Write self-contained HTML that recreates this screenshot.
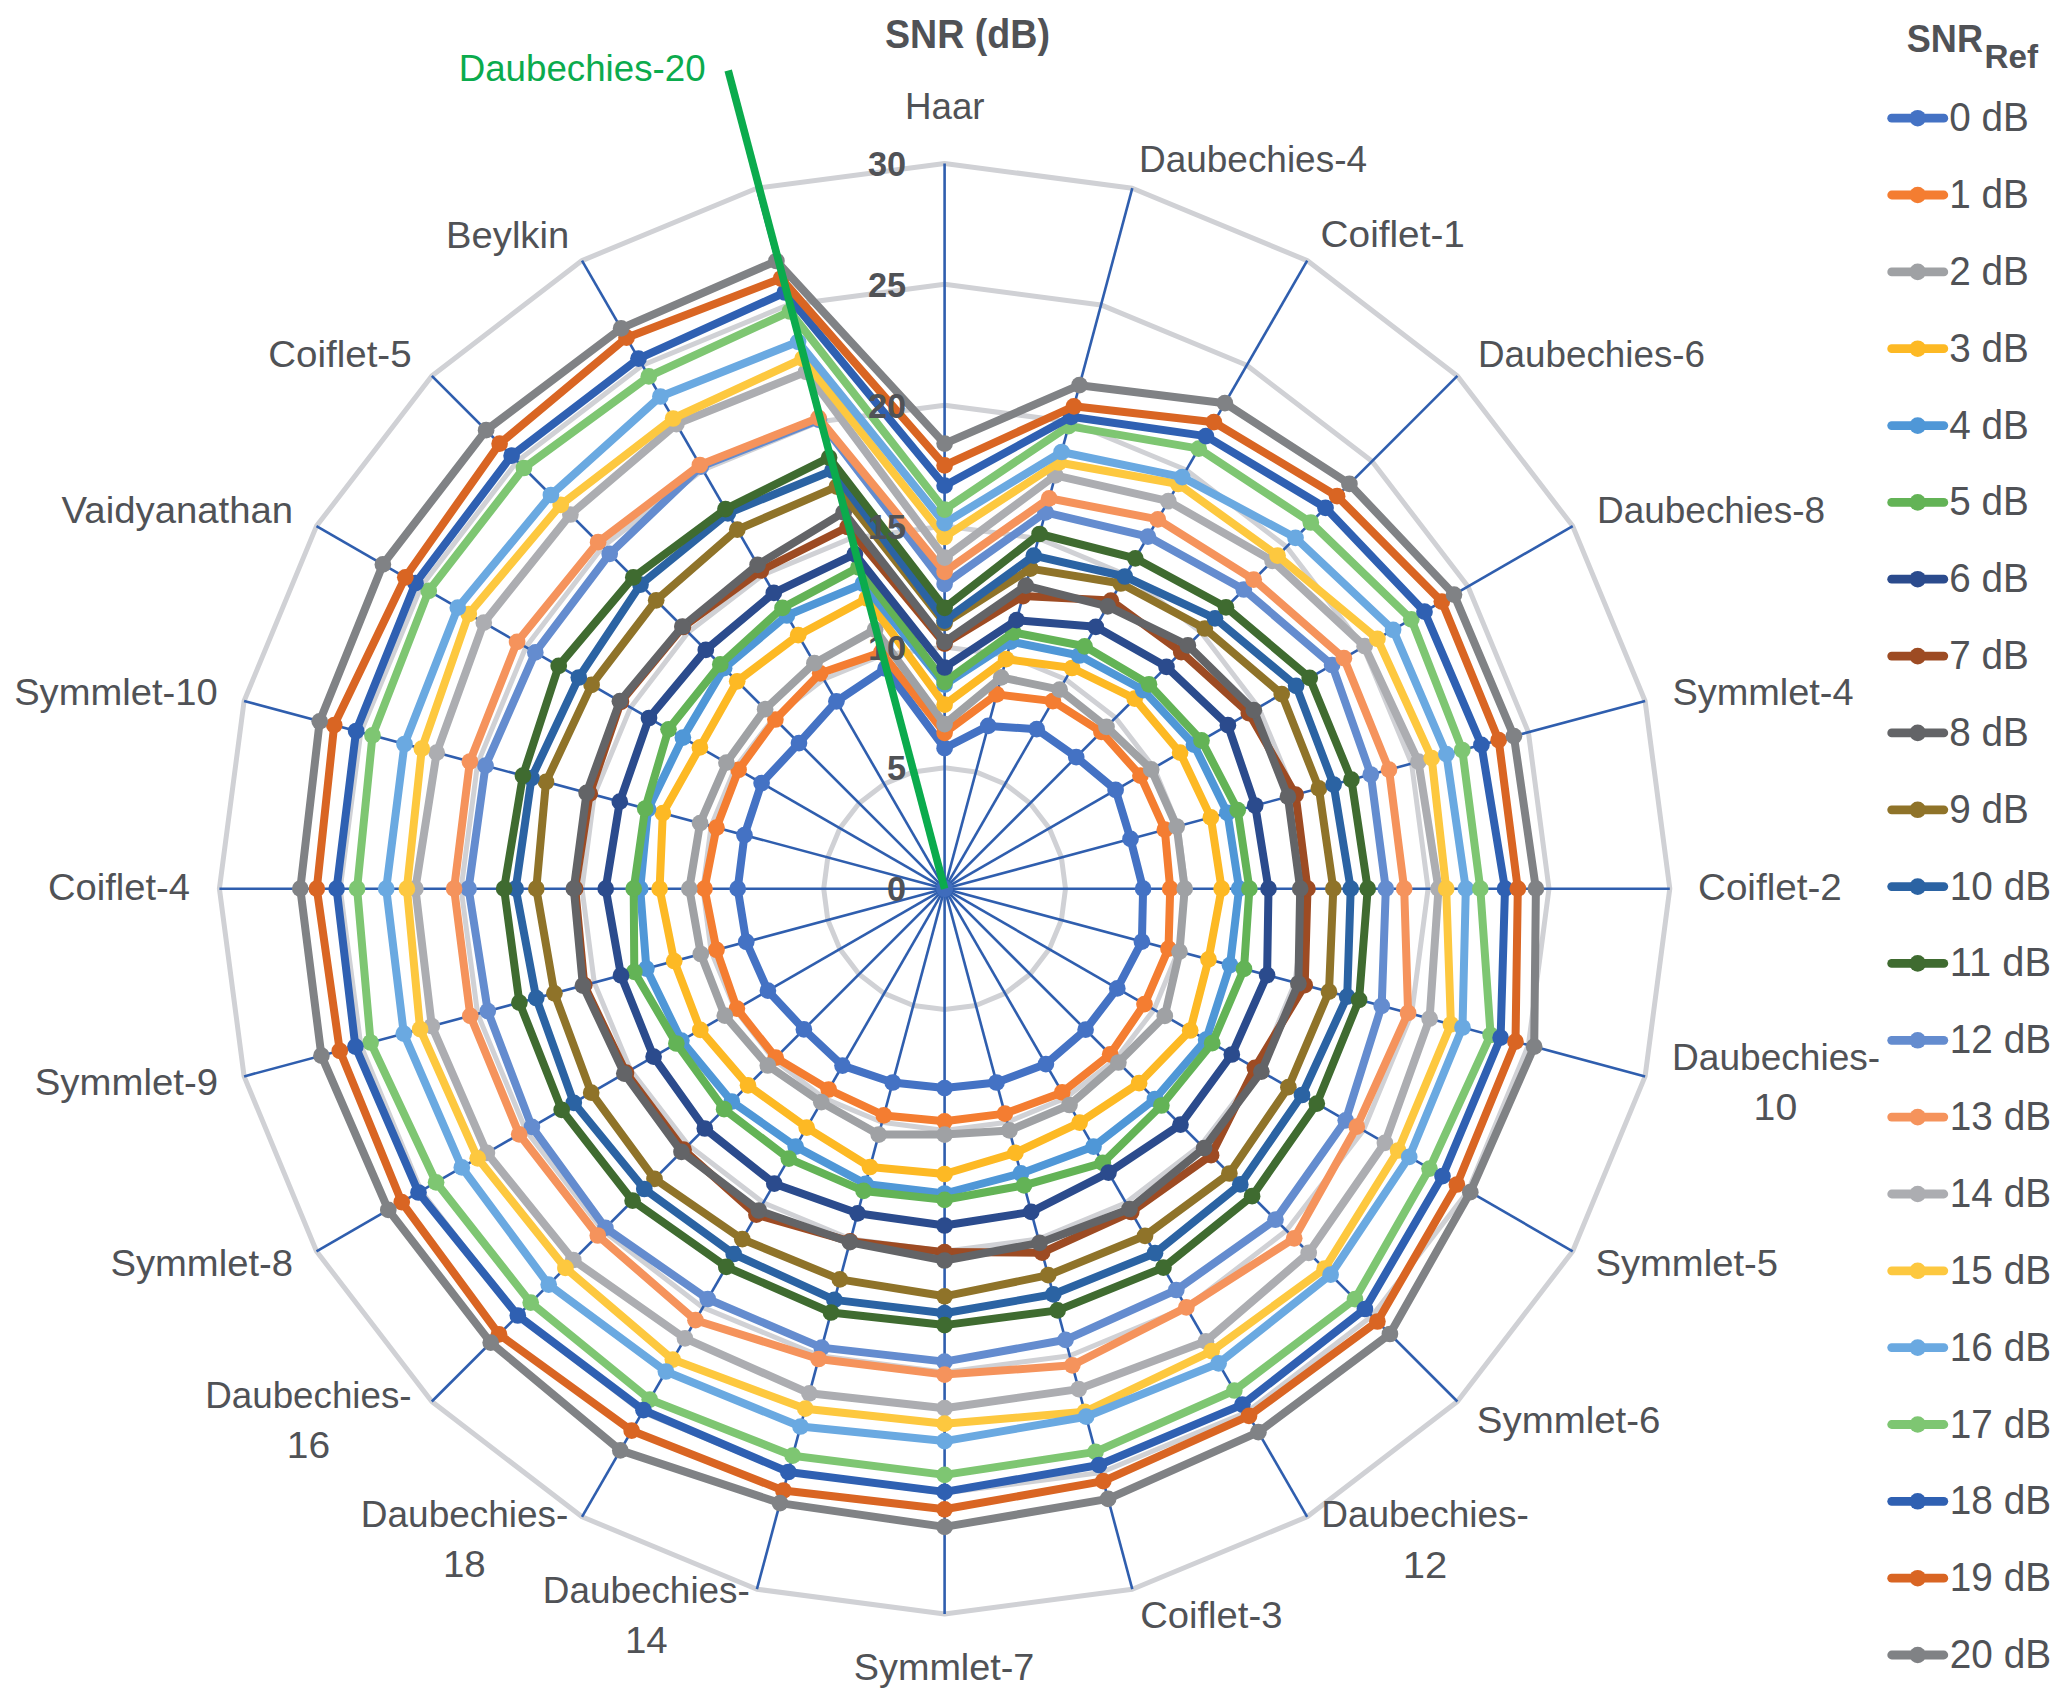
<!DOCTYPE html>
<html><head><meta charset="utf-8"><title>SNR radar</title>
<style>html,body{margin:0;padding:0;background:#fff}svg{display:block}text{font-family:"Liberation Sans",sans-serif}</style></head><body>
<svg width="2067" height="1707" viewBox="0 0 2067 1707">
<rect width="2067" height="1707" fill="#fff"/>
<g fill="none" stroke="#D0D1D5" stroke-width="5.0" stroke-linejoin="round">
<polygon points="944.6,767.8 975.9,771.9 1005.0,784.0 1030.1,803.2 1049.3,828.3 1061.4,857.4 1065.5,888.7 1061.4,920.0 1049.3,949.1 1030.1,974.2 1005.0,993.4 975.9,1005.5 944.6,1009.6 913.3,1005.5 884.2,993.4 859.1,974.2 839.9,949.1 827.8,920.0 823.7,888.7 827.8,857.4 839.9,828.3 859.1,803.2 884.2,784.0 913.3,771.9"/>
<polygon points="944.6,647.0 1007.2,655.2 1065.5,679.3 1115.5,717.8 1154.0,767.8 1178.1,826.1 1186.3,888.7 1178.1,951.3 1154.0,1009.6 1115.5,1059.6 1065.5,1098.1 1007.2,1122.2 944.6,1130.5 882.0,1122.2 823.7,1098.1 773.7,1059.6 735.2,1009.6 711.1,951.3 702.9,888.7 711.1,826.1 735.2,767.8 773.7,717.8 823.7,679.3 882.0,655.2"/>
<polygon points="944.6,526.1 1038.5,538.4 1125.9,574.7 1201.0,632.3 1258.6,707.4 1294.9,794.8 1307.2,888.7 1294.9,982.6 1258.6,1070.0 1201.0,1145.1 1125.9,1202.7 1038.5,1239.0 944.6,1251.3 850.7,1239.0 763.3,1202.7 688.2,1145.1 630.6,1070.0 594.3,982.6 582.0,888.7 594.3,794.8 630.6,707.4 688.2,632.3 763.3,574.7 850.7,538.4"/>
<polygon points="944.6,405.2 1069.7,421.7 1186.3,470.0 1286.5,546.8 1363.3,647.0 1411.6,763.6 1428.1,888.7 1411.6,1013.8 1363.3,1130.5 1286.5,1230.6 1186.3,1307.4 1069.7,1355.7 944.6,1372.2 819.5,1355.7 702.8,1307.4 602.7,1230.6 525.9,1130.5 477.6,1013.8 461.1,888.7 477.6,763.6 525.9,647.0 602.7,546.8 702.8,470.0 819.5,421.7"/>
<polygon points="944.6,284.3 1101.0,304.9 1246.8,365.3 1372.0,461.3 1468.0,586.5 1528.4,732.3 1549.0,888.7 1528.4,1045.1 1468.0,1190.9 1372.0,1316.1 1246.8,1412.1 1101.0,1472.5 944.6,1493.1 788.2,1472.5 642.4,1412.1 517.2,1316.1 421.2,1190.9 360.8,1045.1 340.2,888.7 360.8,732.3 421.2,586.5 517.2,461.3 642.4,365.3 788.2,304.9"/>
<polygon points="944.6,163.5 1132.3,188.2 1307.2,260.6 1457.4,375.9 1572.7,526.1 1645.1,701.0 1669.8,888.7 1645.1,1076.4 1572.7,1251.3 1457.4,1401.5 1307.2,1516.8 1132.3,1589.2 944.6,1614.0 756.9,1589.2 582.0,1516.8 431.8,1401.5 316.5,1251.3 244.1,1076.4 219.4,888.7 244.1,701.0 316.5,526.1 431.8,375.9 582.0,260.6 756.9,188.2"/>
</g>
<g stroke="#2F5EAE" stroke-width="2.6">
<line x1="944.6" y1="888.7" x2="944.6" y2="163.5"/>
<line x1="944.6" y1="888.7" x2="1132.3" y2="188.2"/>
<line x1="944.6" y1="888.7" x2="1307.2" y2="260.6"/>
<line x1="944.6" y1="888.7" x2="1457.4" y2="375.9"/>
<line x1="944.6" y1="888.7" x2="1572.7" y2="526.1"/>
<line x1="944.6" y1="888.7" x2="1645.1" y2="701.0"/>
<line x1="944.6" y1="888.7" x2="1669.8" y2="888.7"/>
<line x1="944.6" y1="888.7" x2="1645.1" y2="1076.4"/>
<line x1="944.6" y1="888.7" x2="1572.7" y2="1251.3"/>
<line x1="944.6" y1="888.7" x2="1457.4" y2="1401.5"/>
<line x1="944.6" y1="888.7" x2="1307.2" y2="1516.8"/>
<line x1="944.6" y1="888.7" x2="1132.3" y2="1589.2"/>
<line x1="944.6" y1="888.7" x2="944.6" y2="1614.0"/>
<line x1="944.6" y1="888.7" x2="756.9" y2="1589.2"/>
<line x1="944.6" y1="888.7" x2="582.0" y2="1516.8"/>
<line x1="944.6" y1="888.7" x2="431.8" y2="1401.5"/>
<line x1="944.6" y1="888.7" x2="316.5" y2="1251.3"/>
<line x1="944.6" y1="888.7" x2="244.1" y2="1076.4"/>
<line x1="944.6" y1="888.7" x2="219.4" y2="888.7"/>
<line x1="944.6" y1="888.7" x2="244.1" y2="701.0"/>
<line x1="944.6" y1="888.7" x2="316.5" y2="526.1"/>
<line x1="944.6" y1="888.7" x2="431.8" y2="375.9"/>
<line x1="944.6" y1="888.7" x2="582.0" y2="260.6"/>
<line x1="944.6" y1="888.7" x2="756.9" y2="188.2"/>
</g>
<circle cx="944.6" cy="888.7" r="8.5" fill="#3F6CBC"/>
<g fill="#4472C4" stroke="#4472C4"><polygon points="944.6,748.2 988.2,725.9 1036.7,729.2 1076.2,757.1 1115.6,789.9 1130.5,838.9 1143.1,888.7 1141.9,941.6 1117.3,988.4 1085.6,1029.7 1045.9,1064.1 996.5,1082.5 944.6,1088.1 892.7,1082.5 842.5,1065.6 803.9,1029.4 767.9,990.7 746.3,941.8 737.7,888.7 744.5,835.1 761.6,783.1 799.0,743.1 836.4,701.3 885.6,668.5" fill="none" stroke-width="8.0" stroke-linejoin="round"/>
<circle cx="944.6" cy="748.2" r="8.35" stroke="none"/><circle cx="988.2" cy="725.9" r="8.35" stroke="none"/><circle cx="1036.7" cy="729.2" r="8.35" stroke="none"/><circle cx="1076.2" cy="757.1" r="8.35" stroke="none"/><circle cx="1115.6" cy="789.9" r="8.35" stroke="none"/><circle cx="1130.5" cy="838.9" r="8.35" stroke="none"/><circle cx="1143.1" cy="888.7" r="8.35" stroke="none"/><circle cx="1141.9" cy="941.6" r="8.35" stroke="none"/><circle cx="1117.3" cy="988.4" r="8.35" stroke="none"/><circle cx="1085.6" cy="1029.7" r="8.35" stroke="none"/><circle cx="1045.9" cy="1064.1" r="8.35" stroke="none"/><circle cx="996.5" cy="1082.5" r="8.35" stroke="none"/><circle cx="944.6" cy="1088.1" r="8.35" stroke="none"/><circle cx="892.7" cy="1082.5" r="8.35" stroke="none"/><circle cx="842.5" cy="1065.6" r="8.35" stroke="none"/><circle cx="803.9" cy="1029.4" r="8.35" stroke="none"/><circle cx="767.9" cy="990.7" r="8.35" stroke="none"/><circle cx="746.3" cy="941.8" r="8.35" stroke="none"/><circle cx="737.7" cy="888.7" r="8.35" stroke="none"/><circle cx="744.5" cy="835.1" r="8.35" stroke="none"/><circle cx="761.6" cy="783.1" r="8.35" stroke="none"/><circle cx="799.0" cy="743.1" r="8.35" stroke="none"/><circle cx="836.4" cy="701.3" r="8.35" stroke="none"/><circle cx="885.6" cy="668.5" r="8.35" stroke="none"/>
</g>
<g fill="#F47D31" stroke="#F47D31"><polygon points="944.6,732.8 996.7,694.4 1052.9,701.1 1101.4,731.9 1140.4,775.7 1164.8,829.7 1170.2,888.7 1168.5,948.7 1144.5,1004.1 1110.2,1054.3 1062.2,1092.4 1004.9,1113.6 944.6,1121.3 883.8,1115.4 828.7,1089.5 775.7,1057.6 736.9,1008.6 716.5,949.8 704.5,888.7 716.5,827.6 738.6,769.8 775.4,719.5 820.2,673.3 881.3,652.4" fill="none" stroke-width="8.0" stroke-linejoin="round"/>
<circle cx="944.6" cy="732.8" r="8.35" stroke="none"/><circle cx="996.7" cy="694.4" r="8.35" stroke="none"/><circle cx="1052.9" cy="701.1" r="8.35" stroke="none"/><circle cx="1101.4" cy="731.9" r="8.35" stroke="none"/><circle cx="1140.4" cy="775.7" r="8.35" stroke="none"/><circle cx="1164.8" cy="829.7" r="8.35" stroke="none"/><circle cx="1170.2" cy="888.7" r="8.35" stroke="none"/><circle cx="1168.5" cy="948.7" r="8.35" stroke="none"/><circle cx="1144.5" cy="1004.1" r="8.35" stroke="none"/><circle cx="1110.2" cy="1054.3" r="8.35" stroke="none"/><circle cx="1062.2" cy="1092.4" r="8.35" stroke="none"/><circle cx="1004.9" cy="1113.6" r="8.35" stroke="none"/><circle cx="944.6" cy="1121.3" r="8.35" stroke="none"/><circle cx="883.8" cy="1115.4" r="8.35" stroke="none"/><circle cx="828.7" cy="1089.5" r="8.35" stroke="none"/><circle cx="775.7" cy="1057.6" r="8.35" stroke="none"/><circle cx="736.9" cy="1008.6" r="8.35" stroke="none"/><circle cx="716.5" cy="949.8" r="8.35" stroke="none"/><circle cx="704.5" cy="888.7" r="8.35" stroke="none"/><circle cx="716.5" cy="827.6" r="8.35" stroke="none"/><circle cx="738.6" cy="769.8" r="8.35" stroke="none"/><circle cx="775.4" cy="719.5" r="8.35" stroke="none"/><circle cx="820.2" cy="673.3" r="8.35" stroke="none"/><circle cx="881.3" cy="652.4" r="8.35" stroke="none"/>
</g>
<g fill="#9FA1A4" stroke="#9FA1A4"><polygon points="944.6,724.1 1001.2,677.4 1059.6,689.6 1106.5,726.8 1151.2,769.4 1176.7,826.5 1184.7,888.7 1179.5,951.6 1164.8,1015.9 1118.4,1062.5 1069.5,1105.0 1009.4,1130.4 944.6,1134.6 878.7,1134.6 821.3,1102.2 767.8,1065.5 724.8,1015.6 700.8,954.0 689.3,888.7 700.1,823.2 726.4,762.7 765.1,709.2 814.4,663.2 875.1,629.5" fill="none" stroke-width="8.0" stroke-linejoin="round"/>
<circle cx="944.6" cy="724.1" r="8.35" stroke="none"/><circle cx="1001.2" cy="677.4" r="8.35" stroke="none"/><circle cx="1059.6" cy="689.6" r="8.35" stroke="none"/><circle cx="1106.5" cy="726.8" r="8.35" stroke="none"/><circle cx="1151.2" cy="769.4" r="8.35" stroke="none"/><circle cx="1176.7" cy="826.5" r="8.35" stroke="none"/><circle cx="1184.7" cy="888.7" r="8.35" stroke="none"/><circle cx="1179.5" cy="951.6" r="8.35" stroke="none"/><circle cx="1164.8" cy="1015.9" r="8.35" stroke="none"/><circle cx="1118.4" cy="1062.5" r="8.35" stroke="none"/><circle cx="1069.5" cy="1105.0" r="8.35" stroke="none"/><circle cx="1009.4" cy="1130.4" r="8.35" stroke="none"/><circle cx="944.6" cy="1134.6" r="8.35" stroke="none"/><circle cx="878.7" cy="1134.6" r="8.35" stroke="none"/><circle cx="821.3" cy="1102.2" r="8.35" stroke="none"/><circle cx="767.8" cy="1065.5" r="8.35" stroke="none"/><circle cx="724.8" cy="1015.6" r="8.35" stroke="none"/><circle cx="700.8" cy="954.0" r="8.35" stroke="none"/><circle cx="689.3" cy="888.7" r="8.35" stroke="none"/><circle cx="700.1" cy="823.2" r="8.35" stroke="none"/><circle cx="726.4" cy="762.7" r="8.35" stroke="none"/><circle cx="765.1" cy="709.2" r="8.35" stroke="none"/><circle cx="814.4" cy="663.2" r="8.35" stroke="none"/><circle cx="875.1" cy="629.5" r="8.35" stroke="none"/>
</g>
<g fill="#FDB924" stroke="#FDB924"><polygon points="944.6,704.7 1006.1,659.2 1072.0,668.0 1134.7,698.6 1180.1,752.7 1210.8,817.4 1221.6,888.7 1208.5,959.4 1190.2,1030.5 1139.1,1083.2 1079.6,1122.6 1015.4,1152.8 944.6,1174.0 870.0,1167.0 806.7,1127.6 748.0,1085.3 700.3,1029.8 674.2,961.2 659.6,888.7 662.8,813.2 699.9,747.4 737.2,681.3 798.2,635.2 866.8,598.4" fill="none" stroke-width="8.0" stroke-linejoin="round"/>
<circle cx="944.6" cy="704.7" r="8.35" stroke="none"/><circle cx="1006.1" cy="659.2" r="8.35" stroke="none"/><circle cx="1072.0" cy="668.0" r="8.35" stroke="none"/><circle cx="1134.7" cy="698.6" r="8.35" stroke="none"/><circle cx="1180.1" cy="752.7" r="8.35" stroke="none"/><circle cx="1210.8" cy="817.4" r="8.35" stroke="none"/><circle cx="1221.6" cy="888.7" r="8.35" stroke="none"/><circle cx="1208.5" cy="959.4" r="8.35" stroke="none"/><circle cx="1190.2" cy="1030.5" r="8.35" stroke="none"/><circle cx="1139.1" cy="1083.2" r="8.35" stroke="none"/><circle cx="1079.6" cy="1122.6" r="8.35" stroke="none"/><circle cx="1015.4" cy="1152.8" r="8.35" stroke="none"/><circle cx="944.6" cy="1174.0" r="8.35" stroke="none"/><circle cx="870.0" cy="1167.0" r="8.35" stroke="none"/><circle cx="806.7" cy="1127.6" r="8.35" stroke="none"/><circle cx="748.0" cy="1085.3" r="8.35" stroke="none"/><circle cx="700.3" cy="1029.8" r="8.35" stroke="none"/><circle cx="674.2" cy="961.2" r="8.35" stroke="none"/><circle cx="659.6" cy="888.7" r="8.35" stroke="none"/><circle cx="662.8" cy="813.2" r="8.35" stroke="none"/><circle cx="699.9" cy="747.4" r="8.35" stroke="none"/><circle cx="737.2" cy="681.3" r="8.35" stroke="none"/><circle cx="798.2" cy="635.2" r="8.35" stroke="none"/><circle cx="866.8" cy="598.4" r="8.35" stroke="none"/>
</g>
<g fill="#4F97D7" stroke="#4F97D7"><polygon points="944.6,684.7 1010.8,641.6 1079.3,655.5 1143.2,690.1 1193.9,744.7 1227.4,812.9 1239.1,888.7 1230.0,965.2 1206.1,1039.7 1154.9,1099.0 1093.5,1146.6 1020.9,1173.4 944.6,1193.5 865.5,1183.9 795.7,1146.6 731.8,1101.5 681.4,1040.6 646.4,968.6 640.2,888.7 648.0,809.2 682.9,737.6 724.1,668.2 786.9,615.5 862.9,583.7" fill="none" stroke-width="8.0" stroke-linejoin="round"/>
<circle cx="944.6" cy="684.7" r="8.35" stroke="none"/><circle cx="1010.8" cy="641.6" r="8.35" stroke="none"/><circle cx="1079.3" cy="655.5" r="8.35" stroke="none"/><circle cx="1143.2" cy="690.1" r="8.35" stroke="none"/><circle cx="1193.9" cy="744.7" r="8.35" stroke="none"/><circle cx="1227.4" cy="812.9" r="8.35" stroke="none"/><circle cx="1239.1" cy="888.7" r="8.35" stroke="none"/><circle cx="1230.0" cy="965.2" r="8.35" stroke="none"/><circle cx="1206.1" cy="1039.7" r="8.35" stroke="none"/><circle cx="1154.9" cy="1099.0" r="8.35" stroke="none"/><circle cx="1093.5" cy="1146.6" r="8.35" stroke="none"/><circle cx="1020.9" cy="1173.4" r="8.35" stroke="none"/><circle cx="944.6" cy="1193.5" r="8.35" stroke="none"/><circle cx="865.5" cy="1183.9" r="8.35" stroke="none"/><circle cx="795.7" cy="1146.6" r="8.35" stroke="none"/><circle cx="731.8" cy="1101.5" r="8.35" stroke="none"/><circle cx="681.4" cy="1040.6" r="8.35" stroke="none"/><circle cx="646.4" cy="968.6" r="8.35" stroke="none"/><circle cx="640.2" cy="888.7" r="8.35" stroke="none"/><circle cx="648.0" cy="809.2" r="8.35" stroke="none"/><circle cx="682.9" cy="737.6" r="8.35" stroke="none"/><circle cx="724.1" cy="668.2" r="8.35" stroke="none"/><circle cx="786.9" cy="615.5" r="8.35" stroke="none"/><circle cx="862.9" cy="583.7" r="8.35" stroke="none"/>
</g>
<g fill="#63B356" stroke="#63B356"><polygon points="944.6,682.0 1013.3,632.3 1084.6,646.3 1149.0,684.3 1201.5,740.4 1237.7,810.2 1249.4,888.7 1244.0,968.9 1212.2,1043.2 1161.4,1105.5 1102.8,1162.8 1024.1,1185.3 944.6,1199.8 863.6,1190.9 788.8,1158.6 724.1,1109.2 676.4,1043.5 634.3,971.9 633.7,888.7 645.2,808.5 668.5,729.3 720.3,664.4 782.5,607.9 858.5,567.4" fill="none" stroke-width="8.0" stroke-linejoin="round"/>
<circle cx="944.6" cy="682.0" r="8.35" stroke="none"/><circle cx="1013.3" cy="632.3" r="8.35" stroke="none"/><circle cx="1084.6" cy="646.3" r="8.35" stroke="none"/><circle cx="1149.0" cy="684.3" r="8.35" stroke="none"/><circle cx="1201.5" cy="740.4" r="8.35" stroke="none"/><circle cx="1237.7" cy="810.2" r="8.35" stroke="none"/><circle cx="1249.4" cy="888.7" r="8.35" stroke="none"/><circle cx="1244.0" cy="968.9" r="8.35" stroke="none"/><circle cx="1212.2" cy="1043.2" r="8.35" stroke="none"/><circle cx="1161.4" cy="1105.5" r="8.35" stroke="none"/><circle cx="1102.8" cy="1162.8" r="8.35" stroke="none"/><circle cx="1024.1" cy="1185.3" r="8.35" stroke="none"/><circle cx="944.6" cy="1199.8" r="8.35" stroke="none"/><circle cx="863.6" cy="1190.9" r="8.35" stroke="none"/><circle cx="788.8" cy="1158.6" r="8.35" stroke="none"/><circle cx="724.1" cy="1109.2" r="8.35" stroke="none"/><circle cx="676.4" cy="1043.5" r="8.35" stroke="none"/><circle cx="634.3" cy="971.9" r="8.35" stroke="none"/><circle cx="633.7" cy="888.7" r="8.35" stroke="none"/><circle cx="645.2" cy="808.5" r="8.35" stroke="none"/><circle cx="668.5" cy="729.3" r="8.35" stroke="none"/><circle cx="720.3" cy="664.4" r="8.35" stroke="none"/><circle cx="782.5" cy="607.9" r="8.35" stroke="none"/><circle cx="858.5" cy="567.4" r="8.35" stroke="none"/>
</g>
<g fill="#2B4B8D" stroke="#2B4B8D"><polygon points="944.6,667.5 1016.6,620.2 1095.8,626.8 1166.5,666.8 1227.9,725.2 1255.2,805.5 1268.5,888.7 1267.1,975.1 1231.8,1054.5 1180.5,1124.6 1108.5,1172.6 1031.2,1211.9 944.6,1225.5 857.6,1213.3 774.3,1183.7 704.8,1128.5 653.6,1056.7 621.0,975.4 605.7,888.7 619.8,801.7 649.0,718.0 705.8,649.9 773.8,592.9 854.9,554.1" fill="none" stroke-width="8.0" stroke-linejoin="round"/>
<circle cx="944.6" cy="667.5" r="8.35" stroke="none"/><circle cx="1016.6" cy="620.2" r="8.35" stroke="none"/><circle cx="1095.8" cy="626.8" r="8.35" stroke="none"/><circle cx="1166.5" cy="666.8" r="8.35" stroke="none"/><circle cx="1227.9" cy="725.2" r="8.35" stroke="none"/><circle cx="1255.2" cy="805.5" r="8.35" stroke="none"/><circle cx="1268.5" cy="888.7" r="8.35" stroke="none"/><circle cx="1267.1" cy="975.1" r="8.35" stroke="none"/><circle cx="1231.8" cy="1054.5" r="8.35" stroke="none"/><circle cx="1180.5" cy="1124.6" r="8.35" stroke="none"/><circle cx="1108.5" cy="1172.6" r="8.35" stroke="none"/><circle cx="1031.2" cy="1211.9" r="8.35" stroke="none"/><circle cx="944.6" cy="1225.5" r="8.35" stroke="none"/><circle cx="857.6" cy="1213.3" r="8.35" stroke="none"/><circle cx="774.3" cy="1183.7" r="8.35" stroke="none"/><circle cx="704.8" cy="1128.5" r="8.35" stroke="none"/><circle cx="653.6" cy="1056.7" r="8.35" stroke="none"/><circle cx="621.0" cy="975.4" r="8.35" stroke="none"/><circle cx="605.7" cy="888.7" r="8.35" stroke="none"/><circle cx="619.8" cy="801.7" r="8.35" stroke="none"/><circle cx="649.0" cy="718.0" r="8.35" stroke="none"/><circle cx="705.8" cy="649.9" r="8.35" stroke="none"/><circle cx="773.8" cy="592.9" r="8.35" stroke="none"/><circle cx="854.9" cy="554.1" r="8.35" stroke="none"/>
</g>
<g fill="#9D4B23" stroke="#9D4B23"><polygon points="944.6,643.6 1023.0,596.1 1110.9,600.6 1181.2,652.1 1248.8,713.1 1295.6,794.7 1307.5,888.7 1304.7,985.2 1254.9,1067.8 1211.1,1155.2 1131.2,1212.0 1042.1,1252.7 944.6,1252.1 850.1,1241.3 756.4,1214.7 683.6,1149.7 626.0,1072.7 584.3,985.2 575.2,888.7 589.7,793.6 620.9,701.8 682.9,627.0 760.9,570.5 847.7,527.0" fill="none" stroke-width="8.0" stroke-linejoin="round"/>
<circle cx="944.6" cy="643.6" r="8.35" stroke="none"/><circle cx="1023.0" cy="596.1" r="8.35" stroke="none"/><circle cx="1110.9" cy="600.6" r="8.35" stroke="none"/><circle cx="1181.2" cy="652.1" r="8.35" stroke="none"/><circle cx="1248.8" cy="713.1" r="8.35" stroke="none"/><circle cx="1295.6" cy="794.7" r="8.35" stroke="none"/><circle cx="1307.5" cy="888.7" r="8.35" stroke="none"/><circle cx="1304.7" cy="985.2" r="8.35" stroke="none"/><circle cx="1254.9" cy="1067.8" r="8.35" stroke="none"/><circle cx="1211.1" cy="1155.2" r="8.35" stroke="none"/><circle cx="1131.2" cy="1212.0" r="8.35" stroke="none"/><circle cx="1042.1" cy="1252.7" r="8.35" stroke="none"/><circle cx="944.6" cy="1252.1" r="8.35" stroke="none"/><circle cx="850.1" cy="1241.3" r="8.35" stroke="none"/><circle cx="756.4" cy="1214.7" r="8.35" stroke="none"/><circle cx="683.6" cy="1149.7" r="8.35" stroke="none"/><circle cx="626.0" cy="1072.7" r="8.35" stroke="none"/><circle cx="584.3" cy="985.2" r="8.35" stroke="none"/><circle cx="575.2" cy="888.7" r="8.35" stroke="none"/><circle cx="589.7" cy="793.6" r="8.35" stroke="none"/><circle cx="620.9" cy="701.8" r="8.35" stroke="none"/><circle cx="682.9" cy="627.0" r="8.35" stroke="none"/><circle cx="760.9" cy="570.5" r="8.35" stroke="none"/><circle cx="847.7" cy="527.0" r="8.35" stroke="none"/>
</g>
<g fill="#636467" stroke="#636467"><polygon points="944.6,641.9 1025.8,585.6 1107.7,606.3 1187.9,645.4 1253.8,710.2 1287.9,796.7 1300.2,888.7 1298.4,983.5 1261.4,1071.6 1204.1,1148.2 1129.5,1209.0 1039.5,1242.9 944.6,1260.5 849.9,1242.2 758.8,1210.5 681.5,1151.8 624.3,1073.6 582.9,985.6 573.8,888.7 586.6,792.8 619.9,701.2 682.4,626.5 757.6,564.8 843.7,512.3" fill="none" stroke-width="8.0" stroke-linejoin="round"/>
<circle cx="944.6" cy="641.9" r="8.35" stroke="none"/><circle cx="1025.8" cy="585.6" r="8.35" stroke="none"/><circle cx="1107.7" cy="606.3" r="8.35" stroke="none"/><circle cx="1187.9" cy="645.4" r="8.35" stroke="none"/><circle cx="1253.8" cy="710.2" r="8.35" stroke="none"/><circle cx="1287.9" cy="796.7" r="8.35" stroke="none"/><circle cx="1300.2" cy="888.7" r="8.35" stroke="none"/><circle cx="1298.4" cy="983.5" r="8.35" stroke="none"/><circle cx="1261.4" cy="1071.6" r="8.35" stroke="none"/><circle cx="1204.1" cy="1148.2" r="8.35" stroke="none"/><circle cx="1129.5" cy="1209.0" r="8.35" stroke="none"/><circle cx="1039.5" cy="1242.9" r="8.35" stroke="none"/><circle cx="944.6" cy="1260.5" r="8.35" stroke="none"/><circle cx="849.9" cy="1242.2" r="8.35" stroke="none"/><circle cx="758.8" cy="1210.5" r="8.35" stroke="none"/><circle cx="681.5" cy="1151.8" r="8.35" stroke="none"/><circle cx="624.3" cy="1073.6" r="8.35" stroke="none"/><circle cx="582.9" cy="985.6" r="8.35" stroke="none"/><circle cx="573.8" cy="888.7" r="8.35" stroke="none"/><circle cx="586.6" cy="792.8" r="8.35" stroke="none"/><circle cx="619.9" cy="701.2" r="8.35" stroke="none"/><circle cx="682.4" cy="626.5" r="8.35" stroke="none"/><circle cx="757.6" cy="564.8" r="8.35" stroke="none"/><circle cx="843.7" cy="512.3" r="8.35" stroke="none"/>
</g>
<g fill="#8F7329" stroke="#8F7329"><polygon points="944.6,623.0 1030.4,568.6 1120.8,583.5 1204.8,628.5 1281.7,694.1 1318.9,788.4 1333.3,888.7 1329.0,991.7 1288.4,1087.2 1229.4,1173.5 1145.0,1235.8 1048.2,1275.2 944.6,1296.3 839.9,1279.4 742.3,1239.2 654.5,1178.8 591.2,1092.7 554.4,993.3 536.3,888.7 546.0,781.9 591.6,684.9 656.2,600.3 737.3,529.6 836.9,486.6" fill="none" stroke-width="8.0" stroke-linejoin="round"/>
<circle cx="944.6" cy="623.0" r="8.35" stroke="none"/><circle cx="1030.4" cy="568.6" r="8.35" stroke="none"/><circle cx="1120.8" cy="583.5" r="8.35" stroke="none"/><circle cx="1204.8" cy="628.5" r="8.35" stroke="none"/><circle cx="1281.7" cy="694.1" r="8.35" stroke="none"/><circle cx="1318.9" cy="788.4" r="8.35" stroke="none"/><circle cx="1333.3" cy="888.7" r="8.35" stroke="none"/><circle cx="1329.0" cy="991.7" r="8.35" stroke="none"/><circle cx="1288.4" cy="1087.2" r="8.35" stroke="none"/><circle cx="1229.4" cy="1173.5" r="8.35" stroke="none"/><circle cx="1145.0" cy="1235.8" r="8.35" stroke="none"/><circle cx="1048.2" cy="1275.2" r="8.35" stroke="none"/><circle cx="944.6" cy="1296.3" r="8.35" stroke="none"/><circle cx="839.9" cy="1279.4" r="8.35" stroke="none"/><circle cx="742.3" cy="1239.2" r="8.35" stroke="none"/><circle cx="654.5" cy="1178.8" r="8.35" stroke="none"/><circle cx="591.2" cy="1092.7" r="8.35" stroke="none"/><circle cx="554.4" cy="993.3" r="8.35" stroke="none"/><circle cx="536.3" cy="888.7" r="8.35" stroke="none"/><circle cx="546.0" cy="781.9" r="8.35" stroke="none"/><circle cx="591.6" cy="684.9" r="8.35" stroke="none"/><circle cx="656.2" cy="600.3" r="8.35" stroke="none"/><circle cx="737.3" cy="529.6" r="8.35" stroke="none"/><circle cx="836.9" cy="486.6" r="8.35" stroke="none"/>
</g>
<g fill="#2B63A3" stroke="#2B63A3"><polygon points="944.6,620.6 1033.8,555.7 1124.8,576.5 1215.0,618.3 1296.1,685.8 1333.6,784.5 1350.7,888.7 1347.2,996.6 1302.0,1095.0 1240.3,1184.4 1155.0,1253.2 1053.3,1294.3 944.6,1313.2 834.4,1299.9 733.7,1254.0 644.3,1189.0 573.8,1102.8 536.2,998.1 515.7,888.7 531.5,778.0 578.8,677.5 640.5,584.6 727.9,513.3 832.5,470.5" fill="none" stroke-width="8.0" stroke-linejoin="round"/>
<circle cx="944.6" cy="620.6" r="8.35" stroke="none"/><circle cx="1033.8" cy="555.7" r="8.35" stroke="none"/><circle cx="1124.8" cy="576.5" r="8.35" stroke="none"/><circle cx="1215.0" cy="618.3" r="8.35" stroke="none"/><circle cx="1296.1" cy="685.8" r="8.35" stroke="none"/><circle cx="1333.6" cy="784.5" r="8.35" stroke="none"/><circle cx="1350.7" cy="888.7" r="8.35" stroke="none"/><circle cx="1347.2" cy="996.6" r="8.35" stroke="none"/><circle cx="1302.0" cy="1095.0" r="8.35" stroke="none"/><circle cx="1240.3" cy="1184.4" r="8.35" stroke="none"/><circle cx="1155.0" cy="1253.2" r="8.35" stroke="none"/><circle cx="1053.3" cy="1294.3" r="8.35" stroke="none"/><circle cx="944.6" cy="1313.2" r="8.35" stroke="none"/><circle cx="834.4" cy="1299.9" r="8.35" stroke="none"/><circle cx="733.7" cy="1254.0" r="8.35" stroke="none"/><circle cx="644.3" cy="1189.0" r="8.35" stroke="none"/><circle cx="573.8" cy="1102.8" r="8.35" stroke="none"/><circle cx="536.2" cy="998.1" r="8.35" stroke="none"/><circle cx="515.7" cy="888.7" r="8.35" stroke="none"/><circle cx="531.5" cy="778.0" r="8.35" stroke="none"/><circle cx="578.8" cy="677.5" r="8.35" stroke="none"/><circle cx="640.5" cy="584.6" r="8.35" stroke="none"/><circle cx="727.9" cy="513.3" r="8.35" stroke="none"/><circle cx="832.5" cy="470.5" r="8.35" stroke="none"/>
</g>
<g fill="#3F6B30" stroke="#3F6B30"><polygon points="944.6,607.8 1039.6,534.0 1135.3,558.3 1226.0,607.3 1309.7,677.9 1351.4,779.7 1367.7,888.7 1359.1,999.8 1316.8,1103.6 1252.1,1196.2 1163.4,1267.6 1057.6,1310.4 944.6,1325.1 831.0,1312.5 726.3,1266.8 632.6,1200.7 561.7,1109.8 519.4,1002.6 504.1,888.7 522.9,775.7 558.7,665.9 633.3,577.4 725.5,509.1 829.1,457.6" fill="none" stroke-width="8.0" stroke-linejoin="round"/>
<circle cx="944.6" cy="607.8" r="8.35" stroke="none"/><circle cx="1039.6" cy="534.0" r="8.35" stroke="none"/><circle cx="1135.3" cy="558.3" r="8.35" stroke="none"/><circle cx="1226.0" cy="607.3" r="8.35" stroke="none"/><circle cx="1309.7" cy="677.9" r="8.35" stroke="none"/><circle cx="1351.4" cy="779.7" r="8.35" stroke="none"/><circle cx="1367.7" cy="888.7" r="8.35" stroke="none"/><circle cx="1359.1" cy="999.8" r="8.35" stroke="none"/><circle cx="1316.8" cy="1103.6" r="8.35" stroke="none"/><circle cx="1252.1" cy="1196.2" r="8.35" stroke="none"/><circle cx="1163.4" cy="1267.6" r="8.35" stroke="none"/><circle cx="1057.6" cy="1310.4" r="8.35" stroke="none"/><circle cx="944.6" cy="1325.1" r="8.35" stroke="none"/><circle cx="831.0" cy="1312.5" r="8.35" stroke="none"/><circle cx="726.3" cy="1266.8" r="8.35" stroke="none"/><circle cx="632.6" cy="1200.7" r="8.35" stroke="none"/><circle cx="561.7" cy="1109.8" r="8.35" stroke="none"/><circle cx="519.4" cy="1002.6" r="8.35" stroke="none"/><circle cx="504.1" cy="888.7" r="8.35" stroke="none"/><circle cx="522.9" cy="775.7" r="8.35" stroke="none"/><circle cx="558.7" cy="665.9" r="8.35" stroke="none"/><circle cx="633.3" cy="577.4" r="8.35" stroke="none"/><circle cx="725.5" cy="509.1" r="8.35" stroke="none"/><circle cx="829.1" cy="457.6" r="8.35" stroke="none"/>
</g>
<g fill="#648CCF" stroke="#648CCF"><polygon points="944.6,584.1 1045.5,512.3 1147.9,536.6 1243.8,589.5 1332.1,665.0 1370.8,774.5 1385.8,888.7 1381.7,1005.8 1345.7,1120.3 1275.5,1219.6 1176.3,1290.0 1065.5,1339.8 944.6,1361.6 821.7,1347.6 707.7,1299.0 605.4,1227.9 531.9,1126.9 487.8,1011.1 468.6,888.7 485.5,765.7 535.3,652.4 609.7,553.8 700.9,466.6 819.0,419.8" fill="none" stroke-width="8.0" stroke-linejoin="round"/>
<circle cx="944.6" cy="584.1" r="8.35" stroke="none"/><circle cx="1045.5" cy="512.3" r="8.35" stroke="none"/><circle cx="1147.9" cy="536.6" r="8.35" stroke="none"/><circle cx="1243.8" cy="589.5" r="8.35" stroke="none"/><circle cx="1332.1" cy="665.0" r="8.35" stroke="none"/><circle cx="1370.8" cy="774.5" r="8.35" stroke="none"/><circle cx="1385.8" cy="888.7" r="8.35" stroke="none"/><circle cx="1381.7" cy="1005.8" r="8.35" stroke="none"/><circle cx="1345.7" cy="1120.3" r="8.35" stroke="none"/><circle cx="1275.5" cy="1219.6" r="8.35" stroke="none"/><circle cx="1176.3" cy="1290.0" r="8.35" stroke="none"/><circle cx="1065.5" cy="1339.8" r="8.35" stroke="none"/><circle cx="944.6" cy="1361.6" r="8.35" stroke="none"/><circle cx="821.7" cy="1347.6" r="8.35" stroke="none"/><circle cx="707.7" cy="1299.0" r="8.35" stroke="none"/><circle cx="605.4" cy="1227.9" r="8.35" stroke="none"/><circle cx="531.9" cy="1126.9" r="8.35" stroke="none"/><circle cx="487.8" cy="1011.1" r="8.35" stroke="none"/><circle cx="468.6" cy="888.7" r="8.35" stroke="none"/><circle cx="485.5" cy="765.7" r="8.35" stroke="none"/><circle cx="535.3" cy="652.4" r="8.35" stroke="none"/><circle cx="609.7" cy="553.8" r="8.35" stroke="none"/><circle cx="700.9" cy="466.6" r="8.35" stroke="none"/><circle cx="819.0" cy="419.8" r="8.35" stroke="none"/>
</g>
<g fill="#F5935C" stroke="#F5935C"><polygon points="944.6,571.8 1049.2,498.3 1157.8,519.4 1253.7,579.6 1343.9,658.2 1389.0,769.6 1404.2,888.7 1408.1,1012.9 1356.8,1126.7 1294.2,1238.3 1186.3,1307.4 1072.3,1365.3 944.6,1374.6 818.6,1359.0 695.5,1320.2 597.8,1235.5 519.2,1134.3 470.3,1015.8 454.1,888.7 469.9,761.5 517.1,641.9 598.1,542.2 699.9,465.0 818.5,417.9" fill="none" stroke-width="8.0" stroke-linejoin="round"/>
<circle cx="944.6" cy="571.8" r="8.35" stroke="none"/><circle cx="1049.2" cy="498.3" r="8.35" stroke="none"/><circle cx="1157.8" cy="519.4" r="8.35" stroke="none"/><circle cx="1253.7" cy="579.6" r="8.35" stroke="none"/><circle cx="1343.9" cy="658.2" r="8.35" stroke="none"/><circle cx="1389.0" cy="769.6" r="8.35" stroke="none"/><circle cx="1404.2" cy="888.7" r="8.35" stroke="none"/><circle cx="1408.1" cy="1012.9" r="8.35" stroke="none"/><circle cx="1356.8" cy="1126.7" r="8.35" stroke="none"/><circle cx="1294.2" cy="1238.3" r="8.35" stroke="none"/><circle cx="1186.3" cy="1307.4" r="8.35" stroke="none"/><circle cx="1072.3" cy="1365.3" r="8.35" stroke="none"/><circle cx="944.6" cy="1374.6" r="8.35" stroke="none"/><circle cx="818.6" cy="1359.0" r="8.35" stroke="none"/><circle cx="695.5" cy="1320.2" r="8.35" stroke="none"/><circle cx="597.8" cy="1235.5" r="8.35" stroke="none"/><circle cx="519.2" cy="1134.3" r="8.35" stroke="none"/><circle cx="470.3" cy="1015.8" r="8.35" stroke="none"/><circle cx="454.1" cy="888.7" r="8.35" stroke="none"/><circle cx="469.9" cy="761.5" r="8.35" stroke="none"/><circle cx="517.1" cy="641.9" r="8.35" stroke="none"/><circle cx="598.1" cy="542.2" r="8.35" stroke="none"/><circle cx="699.9" cy="465.0" r="8.35" stroke="none"/><circle cx="818.5" cy="417.9" r="8.35" stroke="none"/>
</g>
<g fill="#ACADB1" stroke="#ACADB1"><polygon points="944.6,557.7 1055.3,475.4 1168.3,501.2 1272.5,560.8 1364.6,646.2 1418.4,761.7 1438.5,888.7 1429.6,1018.7 1384.9,1142.9 1308.7,1252.8 1205.9,1341.3 1078.7,1389.1 944.6,1408.2 809.4,1393.3 685.0,1338.4 573.3,1260.0 486.9,1152.9 431.8,1026.1 415.4,888.7 436.7,752.6 483.8,622.7 570.4,514.5 676.4,424.1 806.1,371.9" fill="none" stroke-width="8.0" stroke-linejoin="round"/>
<circle cx="944.6" cy="557.7" r="8.35" stroke="none"/><circle cx="1055.3" cy="475.4" r="8.35" stroke="none"/><circle cx="1168.3" cy="501.2" r="8.35" stroke="none"/><circle cx="1272.5" cy="560.8" r="8.35" stroke="none"/><circle cx="1364.6" cy="646.2" r="8.35" stroke="none"/><circle cx="1418.4" cy="761.7" r="8.35" stroke="none"/><circle cx="1438.5" cy="888.7" r="8.35" stroke="none"/><circle cx="1429.6" cy="1018.7" r="8.35" stroke="none"/><circle cx="1384.9" cy="1142.9" r="8.35" stroke="none"/><circle cx="1308.7" cy="1252.8" r="8.35" stroke="none"/><circle cx="1205.9" cy="1341.3" r="8.35" stroke="none"/><circle cx="1078.7" cy="1389.1" r="8.35" stroke="none"/><circle cx="944.6" cy="1408.2" r="8.35" stroke="none"/><circle cx="809.4" cy="1393.3" r="8.35" stroke="none"/><circle cx="685.0" cy="1338.4" r="8.35" stroke="none"/><circle cx="573.3" cy="1260.0" r="8.35" stroke="none"/><circle cx="486.9" cy="1152.9" r="8.35" stroke="none"/><circle cx="431.8" cy="1026.1" r="8.35" stroke="none"/><circle cx="415.4" cy="888.7" r="8.35" stroke="none"/><circle cx="436.7" cy="752.6" r="8.35" stroke="none"/><circle cx="483.8" cy="622.7" r="8.35" stroke="none"/><circle cx="570.4" cy="514.5" r="8.35" stroke="none"/><circle cx="676.4" cy="424.1" r="8.35" stroke="none"/><circle cx="806.1" cy="371.9" r="8.35" stroke="none"/>
</g>
<g fill="#FDC83F" stroke="#FDC83F"><polygon points="944.6,537.0 1058.8,462.5 1178.3,484.0 1277.6,555.7 1377.4,638.9 1431.7,758.2 1446.2,888.7 1450.9,1024.4 1398.1,1150.5 1324.6,1268.7 1211.6,1351.2 1084.8,1411.8 944.6,1423.7 805.3,1408.7 672.8,1359.6 565.4,1267.9 477.7,1158.3 420.1,1029.2 406.9,888.7 421.8,748.6 468.7,614.0 560.7,504.8 673.1,418.5 802.6,358.6" fill="none" stroke-width="8.0" stroke-linejoin="round"/>
<circle cx="944.6" cy="537.0" r="8.35" stroke="none"/><circle cx="1058.8" cy="462.5" r="8.35" stroke="none"/><circle cx="1178.3" cy="484.0" r="8.35" stroke="none"/><circle cx="1277.6" cy="555.7" r="8.35" stroke="none"/><circle cx="1377.4" cy="638.9" r="8.35" stroke="none"/><circle cx="1431.7" cy="758.2" r="8.35" stroke="none"/><circle cx="1446.2" cy="888.7" r="8.35" stroke="none"/><circle cx="1450.9" cy="1024.4" r="8.35" stroke="none"/><circle cx="1398.1" cy="1150.5" r="8.35" stroke="none"/><circle cx="1324.6" cy="1268.7" r="8.35" stroke="none"/><circle cx="1211.6" cy="1351.2" r="8.35" stroke="none"/><circle cx="1084.8" cy="1411.8" r="8.35" stroke="none"/><circle cx="944.6" cy="1423.7" r="8.35" stroke="none"/><circle cx="805.3" cy="1408.7" r="8.35" stroke="none"/><circle cx="672.8" cy="1359.6" r="8.35" stroke="none"/><circle cx="565.4" cy="1267.9" r="8.35" stroke="none"/><circle cx="477.7" cy="1158.3" r="8.35" stroke="none"/><circle cx="420.1" cy="1029.2" r="8.35" stroke="none"/><circle cx="406.9" cy="888.7" r="8.35" stroke="none"/><circle cx="421.8" cy="748.6" r="8.35" stroke="none"/><circle cx="468.7" cy="614.0" r="8.35" stroke="none"/><circle cx="560.7" cy="504.8" r="8.35" stroke="none"/><circle cx="673.1" cy="418.5" r="8.35" stroke="none"/><circle cx="802.6" cy="358.6" r="8.35" stroke="none"/>
</g>
<g fill="#6AA9E1" stroke="#6AA9E1"><polygon points="944.6,523.2 1061.6,452.0 1182.2,477.1 1295.5,537.8 1393.1,629.8 1446.4,754.2 1465.8,888.7 1462.5,1027.5 1409.2,1156.9 1330.6,1274.7 1218.6,1363.3 1086.1,1416.7 944.6,1441.1 800.5,1426.5 665.9,1371.5 548.7,1284.6 461.8,1167.4 403.8,1033.6 386.2,888.7 404.5,744.0 457.8,607.7 550.9,495.0 660.4,396.5 798.1,341.8" fill="none" stroke-width="8.0" stroke-linejoin="round"/>
<circle cx="944.6" cy="523.2" r="8.35" stroke="none"/><circle cx="1061.6" cy="452.0" r="8.35" stroke="none"/><circle cx="1182.2" cy="477.1" r="8.35" stroke="none"/><circle cx="1295.5" cy="537.8" r="8.35" stroke="none"/><circle cx="1393.1" cy="629.8" r="8.35" stroke="none"/><circle cx="1446.4" cy="754.2" r="8.35" stroke="none"/><circle cx="1465.8" cy="888.7" r="8.35" stroke="none"/><circle cx="1462.5" cy="1027.5" r="8.35" stroke="none"/><circle cx="1409.2" cy="1156.9" r="8.35" stroke="none"/><circle cx="1330.6" cy="1274.7" r="8.35" stroke="none"/><circle cx="1218.6" cy="1363.3" r="8.35" stroke="none"/><circle cx="1086.1" cy="1416.7" r="8.35" stroke="none"/><circle cx="944.6" cy="1441.1" r="8.35" stroke="none"/><circle cx="800.5" cy="1426.5" r="8.35" stroke="none"/><circle cx="665.9" cy="1371.5" r="8.35" stroke="none"/><circle cx="548.7" cy="1284.6" r="8.35" stroke="none"/><circle cx="461.8" cy="1167.4" r="8.35" stroke="none"/><circle cx="403.8" cy="1033.6" r="8.35" stroke="none"/><circle cx="386.2" cy="888.7" r="8.35" stroke="none"/><circle cx="404.5" cy="744.0" r="8.35" stroke="none"/><circle cx="457.8" cy="607.7" r="8.35" stroke="none"/><circle cx="550.9" cy="495.0" r="8.35" stroke="none"/><circle cx="660.4" cy="396.5" r="8.35" stroke="none"/><circle cx="798.1" cy="341.8" r="8.35" stroke="none"/>
</g>
<g fill="#7EC672" stroke="#7EC672"><polygon points="944.6,509.6 1068.6,426.1 1198.7,448.6 1310.8,522.5 1411.3,619.3 1462.3,750.0 1480.3,888.7 1490.6,1035.0 1429.5,1168.6 1355.0,1299.1 1234.3,1390.5 1095.5,1451.9 944.6,1474.9 792.7,1455.7 649.7,1399.5 530.7,1302.6 436.1,1182.3 370.6,1042.5 357.1,888.7 372.5,735.4 428.7,590.9 523.9,468.0 648.8,376.4 789.9,311.5" fill="none" stroke-width="8.0" stroke-linejoin="round"/>
<circle cx="944.6" cy="509.6" r="8.35" stroke="none"/><circle cx="1068.6" cy="426.1" r="8.35" stroke="none"/><circle cx="1198.7" cy="448.6" r="8.35" stroke="none"/><circle cx="1310.8" cy="522.5" r="8.35" stroke="none"/><circle cx="1411.3" cy="619.3" r="8.35" stroke="none"/><circle cx="1462.3" cy="750.0" r="8.35" stroke="none"/><circle cx="1480.3" cy="888.7" r="8.35" stroke="none"/><circle cx="1490.6" cy="1035.0" r="8.35" stroke="none"/><circle cx="1429.5" cy="1168.6" r="8.35" stroke="none"/><circle cx="1355.0" cy="1299.1" r="8.35" stroke="none"/><circle cx="1234.3" cy="1390.5" r="8.35" stroke="none"/><circle cx="1095.5" cy="1451.9" r="8.35" stroke="none"/><circle cx="944.6" cy="1474.9" r="8.35" stroke="none"/><circle cx="792.7" cy="1455.7" r="8.35" stroke="none"/><circle cx="649.7" cy="1399.5" r="8.35" stroke="none"/><circle cx="530.7" cy="1302.6" r="8.35" stroke="none"/><circle cx="436.1" cy="1182.3" r="8.35" stroke="none"/><circle cx="370.6" cy="1042.5" r="8.35" stroke="none"/><circle cx="357.1" cy="888.7" r="8.35" stroke="none"/><circle cx="372.5" cy="735.4" r="8.35" stroke="none"/><circle cx="428.7" cy="590.9" r="8.35" stroke="none"/><circle cx="523.9" cy="468.0" r="8.35" stroke="none"/><circle cx="648.8" cy="376.4" r="8.35" stroke="none"/><circle cx="789.9" cy="311.5" r="8.35" stroke="none"/>
</g>
<g fill="#2F60B2" stroke="#2F60B2"><polygon points="944.6,485.7 1071.1,416.8 1205.9,436.1 1325.5,507.8 1424.5,611.7 1481.4,744.9 1505.0,888.7 1500.6,1037.7 1442.5,1176.1 1364.9,1309.0 1242.4,1404.6 1099.0,1465.0 944.6,1491.9 788.3,1472.0 643.5,1410.2 517.8,1315.5 418.5,1192.5 355.4,1046.6 336.6,888.7 356.1,731.0 415.5,583.2 511.6,455.7 638.5,358.6 784.9,292.5" fill="none" stroke-width="8.0" stroke-linejoin="round"/>
<circle cx="944.6" cy="485.7" r="8.35" stroke="none"/><circle cx="1071.1" cy="416.8" r="8.35" stroke="none"/><circle cx="1205.9" cy="436.1" r="8.35" stroke="none"/><circle cx="1325.5" cy="507.8" r="8.35" stroke="none"/><circle cx="1424.5" cy="611.7" r="8.35" stroke="none"/><circle cx="1481.4" cy="744.9" r="8.35" stroke="none"/><circle cx="1505.0" cy="888.7" r="8.35" stroke="none"/><circle cx="1500.6" cy="1037.7" r="8.35" stroke="none"/><circle cx="1442.5" cy="1176.1" r="8.35" stroke="none"/><circle cx="1364.9" cy="1309.0" r="8.35" stroke="none"/><circle cx="1242.4" cy="1404.6" r="8.35" stroke="none"/><circle cx="1099.0" cy="1465.0" r="8.35" stroke="none"/><circle cx="944.6" cy="1491.9" r="8.35" stroke="none"/><circle cx="788.3" cy="1472.0" r="8.35" stroke="none"/><circle cx="643.5" cy="1410.2" r="8.35" stroke="none"/><circle cx="517.8" cy="1315.5" r="8.35" stroke="none"/><circle cx="418.5" cy="1192.5" r="8.35" stroke="none"/><circle cx="355.4" cy="1046.6" r="8.35" stroke="none"/><circle cx="336.6" cy="888.7" r="8.35" stroke="none"/><circle cx="356.1" cy="731.0" r="8.35" stroke="none"/><circle cx="415.5" cy="583.2" r="8.35" stroke="none"/><circle cx="511.6" cy="455.7" r="8.35" stroke="none"/><circle cx="638.5" cy="358.6" r="8.35" stroke="none"/><circle cx="784.9" cy="292.5" r="8.35" stroke="none"/>
</g>
<g fill="#D96523" stroke="#D96523"><polygon points="944.6,465.4 1073.9,406.3 1213.9,422.2 1337.1,496.2 1441.8,601.6 1498.7,740.2 1517.8,888.7 1515.5,1041.7 1456.9,1184.5 1377.4,1321.5 1249.0,1415.9 1103.3,1481.1 944.6,1509.3 783.4,1490.5 631.7,1430.7 499.0,1334.3 401.7,1202.1 339.8,1050.8 316.8,888.7 334.2,725.1 405.3,577.3 499.6,443.7 626.5,337.7 781.1,278.5" fill="none" stroke-width="8.0" stroke-linejoin="round"/>
<circle cx="944.6" cy="465.4" r="8.35" stroke="none"/><circle cx="1073.9" cy="406.3" r="8.35" stroke="none"/><circle cx="1213.9" cy="422.2" r="8.35" stroke="none"/><circle cx="1337.1" cy="496.2" r="8.35" stroke="none"/><circle cx="1441.8" cy="601.6" r="8.35" stroke="none"/><circle cx="1498.7" cy="740.2" r="8.35" stroke="none"/><circle cx="1517.8" cy="888.7" r="8.35" stroke="none"/><circle cx="1515.5" cy="1041.7" r="8.35" stroke="none"/><circle cx="1456.9" cy="1184.5" r="8.35" stroke="none"/><circle cx="1377.4" cy="1321.5" r="8.35" stroke="none"/><circle cx="1249.0" cy="1415.9" r="8.35" stroke="none"/><circle cx="1103.3" cy="1481.1" r="8.35" stroke="none"/><circle cx="944.6" cy="1509.3" r="8.35" stroke="none"/><circle cx="783.4" cy="1490.5" r="8.35" stroke="none"/><circle cx="631.7" cy="1430.7" r="8.35" stroke="none"/><circle cx="499.0" cy="1334.3" r="8.35" stroke="none"/><circle cx="401.7" cy="1202.1" r="8.35" stroke="none"/><circle cx="339.8" cy="1050.8" r="8.35" stroke="none"/><circle cx="316.8" cy="888.7" r="8.35" stroke="none"/><circle cx="334.2" cy="725.1" r="8.35" stroke="none"/><circle cx="405.3" cy="577.3" r="8.35" stroke="none"/><circle cx="499.6" cy="443.7" r="8.35" stroke="none"/><circle cx="626.5" cy="337.7" r="8.35" stroke="none"/><circle cx="781.1" cy="278.5" r="8.35" stroke="none"/>
</g>
<g fill="#808285" stroke="#808285"><polygon points="944.6,443.6 1079.5,385.2 1224.9,403.2 1349.4,483.9 1454.0,594.6 1513.9,736.2 1535.9,888.7 1534.2,1046.7 1470.3,1192.2 1389.9,1334.0 1258.4,1432.2 1108.1,1498.9 944.6,1526.9 780.0,1503.1 620.3,1450.4 490.7,1342.6 388.3,1209.9 321.4,1055.7 300.3,888.7 319.7,721.3 382.9,564.4 486.1,430.2 621.1,328.4 776.4,261.0" fill="none" stroke-width="8.0" stroke-linejoin="round"/>
<circle cx="944.6" cy="443.6" r="8.35" stroke="none"/><circle cx="1079.5" cy="385.2" r="8.35" stroke="none"/><circle cx="1224.9" cy="403.2" r="8.35" stroke="none"/><circle cx="1349.4" cy="483.9" r="8.35" stroke="none"/><circle cx="1454.0" cy="594.6" r="8.35" stroke="none"/><circle cx="1513.9" cy="736.2" r="8.35" stroke="none"/><circle cx="1535.9" cy="888.7" r="8.35" stroke="none"/><circle cx="1534.2" cy="1046.7" r="8.35" stroke="none"/><circle cx="1470.3" cy="1192.2" r="8.35" stroke="none"/><circle cx="1389.9" cy="1334.0" r="8.35" stroke="none"/><circle cx="1258.4" cy="1432.2" r="8.35" stroke="none"/><circle cx="1108.1" cy="1498.9" r="8.35" stroke="none"/><circle cx="944.6" cy="1526.9" r="8.35" stroke="none"/><circle cx="780.0" cy="1503.1" r="8.35" stroke="none"/><circle cx="620.3" cy="1450.4" r="8.35" stroke="none"/><circle cx="490.7" cy="1342.6" r="8.35" stroke="none"/><circle cx="388.3" cy="1209.9" r="8.35" stroke="none"/><circle cx="321.4" cy="1055.7" r="8.35" stroke="none"/><circle cx="300.3" cy="888.7" r="8.35" stroke="none"/><circle cx="319.7" cy="721.3" r="8.35" stroke="none"/><circle cx="382.9" cy="564.4" r="8.35" stroke="none"/><circle cx="486.1" cy="430.2" r="8.35" stroke="none"/><circle cx="621.1" cy="328.4" r="8.35" stroke="none"/><circle cx="776.4" cy="261.0" r="8.35" stroke="none"/>
</g>
<g fill="#505256" font-weight="bold" font-size="34.3" text-anchor="end">
<text x="906.2" y="901.3">0</text>
<text x="906.2" y="780.4">5</text>
<text x="906.2" y="659.6">10</text>
<text x="906.2" y="538.7">15</text>
<text x="906.2" y="417.8">20</text>
<text x="906.2" y="296.9">25</text>
<text x="906.2" y="176.1">30</text>
</g>
<line x1="944.6" y1="888.7" x2="728.2" y2="70.5" stroke="#0BAB4D" stroke-width="7.6"/>
<g fill="#505256" font-size="36">
<text x="905.0" y="119.0" textLength="79.6" lengthAdjust="spacingAndGlyphs">Haar</text>
<text x="1139.0" y="172.4" textLength="228.0" lengthAdjust="spacingAndGlyphs">Daubechies-4</text>
<text x="1320.6" y="247.4" textLength="144.3" lengthAdjust="spacingAndGlyphs">Coiflet-1</text>
<text x="1478.0" y="366.9" textLength="227.0" lengthAdjust="spacingAndGlyphs">Daubechies-6</text>
<text x="1597.0" y="523.3" textLength="228.0" lengthAdjust="spacingAndGlyphs">Daubechies-8</text>
<text x="1672.4" y="705.2" textLength="181.2" lengthAdjust="spacingAndGlyphs">Symmlet-4</text>
<text x="1698.0" y="899.7" textLength="143.8" lengthAdjust="spacingAndGlyphs">Coiflet-2</text>
<text x="1672.0" y="1069.5" textLength="208.2" lengthAdjust="spacingAndGlyphs">Daubechies-</text>
<text x="1753.6" y="1119.8" textLength="43.6" lengthAdjust="spacingAndGlyphs">10</text>
<text x="1595.4" y="1276.4" textLength="182.6" lengthAdjust="spacingAndGlyphs">Symmlet-5</text>
<text x="1476.8" y="1432.7" textLength="183.6" lengthAdjust="spacingAndGlyphs">Symmlet-6</text>
<text x="1321.2" y="1527.2" textLength="207.6" lengthAdjust="spacingAndGlyphs">Daubechies-</text>
<text x="1402.7" y="1577.6" textLength="44.5" lengthAdjust="spacingAndGlyphs">12</text>
<text x="1140.2" y="1628.3" textLength="142.2" lengthAdjust="spacingAndGlyphs">Coiflet-3</text>
<text x="853.8" y="1680.3" textLength="180.6" lengthAdjust="spacingAndGlyphs">Symmlet-7</text>
<text x="542.8" y="1602.8" textLength="207.0" lengthAdjust="spacingAndGlyphs">Daubechies-</text>
<text x="624.9" y="1652.8" textLength="42.7" lengthAdjust="spacingAndGlyphs">14</text>
<text x="360.8" y="1527.4" textLength="207.6" lengthAdjust="spacingAndGlyphs">Daubechies-</text>
<text x="442.9" y="1576.6" textLength="42.8" lengthAdjust="spacingAndGlyphs">18</text>
<text x="205.2" y="1408.1" textLength="206.4" lengthAdjust="spacingAndGlyphs">Daubechies-</text>
<text x="286.8" y="1457.8" textLength="43.3" lengthAdjust="spacingAndGlyphs">16</text>
<text x="110.4" y="1276.4" textLength="182.6" lengthAdjust="spacingAndGlyphs">Symmlet-8</text>
<text x="34.8" y="1095.0" textLength="183.2" lengthAdjust="spacingAndGlyphs">Symmlet-9</text>
<text x="48.0" y="899.8" textLength="142.0" lengthAdjust="spacingAndGlyphs">Coiflet-4</text>
<text x="14.2" y="705.0" textLength="203.4" lengthAdjust="spacingAndGlyphs">Symmlet-10</text>
<text x="61.6" y="523.4" textLength="231.6" lengthAdjust="spacingAndGlyphs">Vaidyanathan</text>
<text x="268.2" y="366.6" textLength="143.4" lengthAdjust="spacingAndGlyphs">Coiflet-5</text>
<text x="446.1" y="247.5" textLength="123.1" lengthAdjust="spacingAndGlyphs">Beylkin</text>
</g>
<text x="458.7" y="80.9" textLength="246.9" lengthAdjust="spacingAndGlyphs" font-size="36" fill="#0BAB4D">Daubechies-20</text>
<text x="885" y="48.4" textLength="165" lengthAdjust="spacingAndGlyphs" font-size="41" font-weight="bold" fill="#505256">SNR (dB)</text>
<text x="1906.8" y="52" textLength="76.2" lengthAdjust="spacingAndGlyphs" font-size="39.6" font-weight="bold" fill="#505256">SNR</text>
<text x="1984.5" y="67.5" textLength="53.5" lengthAdjust="spacingAndGlyphs" font-size="33" font-weight="bold" fill="#505256">Ref</text>
<line x1="1891.7" y1="118.2" x2="1943.8" y2="118.2" stroke="#4472C4" stroke-width="8.8" stroke-linecap="round"/><circle cx="1917.7" cy="118.2" r="8.3" fill="#4472C4"/>
<text x="1949.3" y="131.2" textLength="79.6" lengthAdjust="spacingAndGlyphs" font-size="40" fill="#505256">0 dB</text>
<line x1="1891.7" y1="195.0" x2="1943.8" y2="195.0" stroke="#F47D31" stroke-width="8.8" stroke-linecap="round"/><circle cx="1917.7" cy="195.0" r="8.3" fill="#F47D31"/>
<text x="1949.3" y="208.0" textLength="79.6" lengthAdjust="spacingAndGlyphs" font-size="40" fill="#505256">1 dB</text>
<line x1="1891.7" y1="271.9" x2="1943.8" y2="271.9" stroke="#9FA1A4" stroke-width="8.8" stroke-linecap="round"/><circle cx="1917.7" cy="271.9" r="8.3" fill="#9FA1A4"/>
<text x="1949.3" y="284.9" textLength="79.6" lengthAdjust="spacingAndGlyphs" font-size="40" fill="#505256">2 dB</text>
<line x1="1891.7" y1="348.7" x2="1943.8" y2="348.7" stroke="#FDB924" stroke-width="8.8" stroke-linecap="round"/><circle cx="1917.7" cy="348.7" r="8.3" fill="#FDB924"/>
<text x="1949.3" y="361.7" textLength="79.6" lengthAdjust="spacingAndGlyphs" font-size="40" fill="#505256">3 dB</text>
<line x1="1891.7" y1="425.6" x2="1943.8" y2="425.6" stroke="#4F97D7" stroke-width="8.8" stroke-linecap="round"/><circle cx="1917.7" cy="425.6" r="8.3" fill="#4F97D7"/>
<text x="1949.3" y="438.6" textLength="79.6" lengthAdjust="spacingAndGlyphs" font-size="40" fill="#505256">4 dB</text>
<line x1="1891.7" y1="502.4" x2="1943.8" y2="502.4" stroke="#63B356" stroke-width="8.8" stroke-linecap="round"/><circle cx="1917.7" cy="502.4" r="8.3" fill="#63B356"/>
<text x="1949.3" y="515.4" textLength="79.6" lengthAdjust="spacingAndGlyphs" font-size="40" fill="#505256">5 dB</text>
<line x1="1891.7" y1="579.2" x2="1943.8" y2="579.2" stroke="#2B4B8D" stroke-width="8.8" stroke-linecap="round"/><circle cx="1917.7" cy="579.2" r="8.3" fill="#2B4B8D"/>
<text x="1949.3" y="592.2" textLength="79.6" lengthAdjust="spacingAndGlyphs" font-size="40" fill="#505256">6 dB</text>
<line x1="1891.7" y1="656.1" x2="1943.8" y2="656.1" stroke="#9D4B23" stroke-width="8.8" stroke-linecap="round"/><circle cx="1917.7" cy="656.1" r="8.3" fill="#9D4B23"/>
<text x="1949.3" y="669.1" textLength="79.6" lengthAdjust="spacingAndGlyphs" font-size="40" fill="#505256">7 dB</text>
<line x1="1891.7" y1="732.9" x2="1943.8" y2="732.9" stroke="#636467" stroke-width="8.8" stroke-linecap="round"/><circle cx="1917.7" cy="732.9" r="8.3" fill="#636467"/>
<text x="1949.3" y="745.9" textLength="79.6" lengthAdjust="spacingAndGlyphs" font-size="40" fill="#505256">8 dB</text>
<line x1="1891.7" y1="809.8" x2="1943.8" y2="809.8" stroke="#8F7329" stroke-width="8.8" stroke-linecap="round"/><circle cx="1917.7" cy="809.8" r="8.3" fill="#8F7329"/>
<text x="1949.3" y="822.8" textLength="79.6" lengthAdjust="spacingAndGlyphs" font-size="40" fill="#505256">9 dB</text>
<line x1="1891.7" y1="886.6" x2="1943.8" y2="886.6" stroke="#2B63A3" stroke-width="8.8" stroke-linecap="round"/><circle cx="1917.7" cy="886.6" r="8.3" fill="#2B63A3"/>
<text x="1949.8" y="899.6" textLength="101.2" lengthAdjust="spacingAndGlyphs" font-size="40" fill="#505256">10 dB</text>
<line x1="1891.7" y1="963.4" x2="1943.8" y2="963.4" stroke="#3F6B30" stroke-width="8.8" stroke-linecap="round"/><circle cx="1917.7" cy="963.4" r="8.3" fill="#3F6B30"/>
<text x="1949.8" y="976.4" textLength="101.2" lengthAdjust="spacingAndGlyphs" font-size="40" fill="#505256">11 dB</text>
<line x1="1891.7" y1="1040.3" x2="1943.8" y2="1040.3" stroke="#648CCF" stroke-width="8.8" stroke-linecap="round"/><circle cx="1917.7" cy="1040.3" r="8.3" fill="#648CCF"/>
<text x="1949.8" y="1053.3" textLength="101.2" lengthAdjust="spacingAndGlyphs" font-size="40" fill="#505256">12 dB</text>
<line x1="1891.7" y1="1117.1" x2="1943.8" y2="1117.1" stroke="#F5935C" stroke-width="8.8" stroke-linecap="round"/><circle cx="1917.7" cy="1117.1" r="8.3" fill="#F5935C"/>
<text x="1949.8" y="1130.1" textLength="101.2" lengthAdjust="spacingAndGlyphs" font-size="40" fill="#505256">13 dB</text>
<line x1="1891.7" y1="1194.0" x2="1943.8" y2="1194.0" stroke="#ACADB1" stroke-width="8.8" stroke-linecap="round"/><circle cx="1917.7" cy="1194.0" r="8.3" fill="#ACADB1"/>
<text x="1949.8" y="1207.0" textLength="101.2" lengthAdjust="spacingAndGlyphs" font-size="40" fill="#505256">14 dB</text>
<line x1="1891.7" y1="1270.8" x2="1943.8" y2="1270.8" stroke="#FDC83F" stroke-width="8.8" stroke-linecap="round"/><circle cx="1917.7" cy="1270.8" r="8.3" fill="#FDC83F"/>
<text x="1949.8" y="1283.8" textLength="101.2" lengthAdjust="spacingAndGlyphs" font-size="40" fill="#505256">15 dB</text>
<line x1="1891.7" y1="1347.6" x2="1943.8" y2="1347.6" stroke="#6AA9E1" stroke-width="8.8" stroke-linecap="round"/><circle cx="1917.7" cy="1347.6" r="8.3" fill="#6AA9E1"/>
<text x="1949.8" y="1360.6" textLength="101.2" lengthAdjust="spacingAndGlyphs" font-size="40" fill="#505256">16 dB</text>
<line x1="1891.7" y1="1424.5" x2="1943.8" y2="1424.5" stroke="#7EC672" stroke-width="8.8" stroke-linecap="round"/><circle cx="1917.7" cy="1424.5" r="8.3" fill="#7EC672"/>
<text x="1949.8" y="1437.5" textLength="101.2" lengthAdjust="spacingAndGlyphs" font-size="40" fill="#505256">17 dB</text>
<line x1="1891.7" y1="1501.3" x2="1943.8" y2="1501.3" stroke="#2F60B2" stroke-width="8.8" stroke-linecap="round"/><circle cx="1917.7" cy="1501.3" r="8.3" fill="#2F60B2"/>
<text x="1949.8" y="1514.3" textLength="101.2" lengthAdjust="spacingAndGlyphs" font-size="40" fill="#505256">18 dB</text>
<line x1="1891.7" y1="1578.2" x2="1943.8" y2="1578.2" stroke="#D96523" stroke-width="8.8" stroke-linecap="round"/><circle cx="1917.7" cy="1578.2" r="8.3" fill="#D96523"/>
<text x="1949.8" y="1591.2" textLength="101.2" lengthAdjust="spacingAndGlyphs" font-size="40" fill="#505256">19 dB</text>
<line x1="1891.7" y1="1655.0" x2="1943.8" y2="1655.0" stroke="#808285" stroke-width="8.8" stroke-linecap="round"/><circle cx="1917.7" cy="1655.0" r="8.3" fill="#808285"/>
<text x="1949.8" y="1668.0" textLength="101.2" lengthAdjust="spacingAndGlyphs" font-size="40" fill="#505256">20 dB</text>
</svg></body></html>
